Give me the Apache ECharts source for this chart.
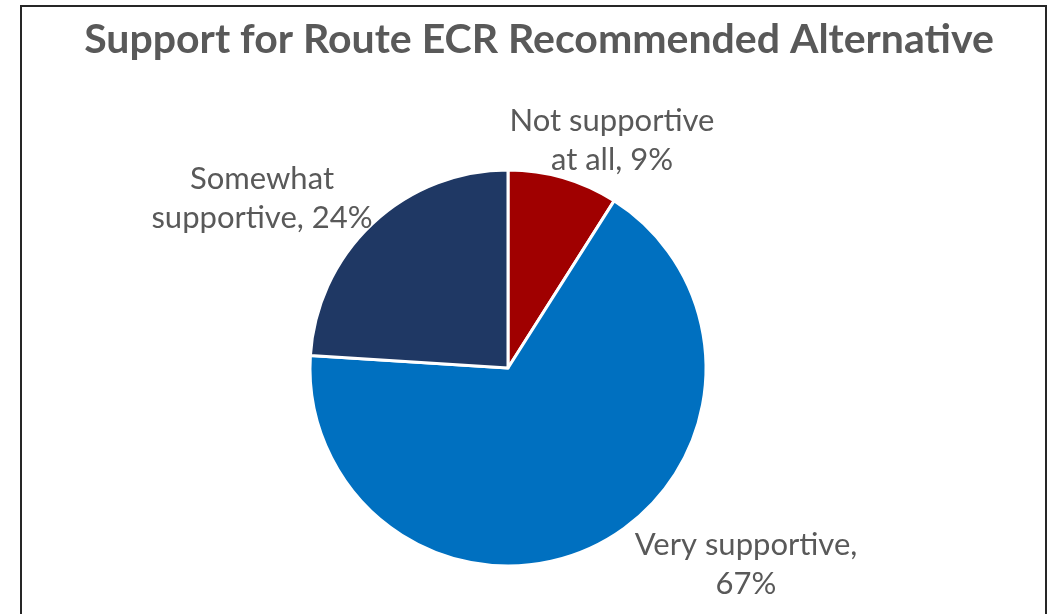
<!DOCTYPE html>
<html>
<head>
<meta charset="utf-8">
<script src="https://cdn.jsdelivr.net/npm/echarts@6/dist/echarts.min.js"></script>
<style>
html,body{margin:0;padding:0;background:#fff;}
#frame{position:absolute;left:20px;top:5px;width:1023px;height:640px;border:2px solid #262626;box-sizing:content-box;}
#chart{position:absolute;left:0;top:0;width:1053px;height:614px;}
</style>
</head>
<body>
<div id="frame"></div>
<div id="chart"></div>
<script>
const titleText = 'Support for Route ECR Recommended Alternative';
const categories = ['Not supportive at all', 'Very supportive', 'Somewhat supportive'];
const values = [9, 67, 24];
const labelLines = {
  'Not supportive at all': ['Not supportive', 'at all'],
  'Very supportive': ['Very supportive,', ''],
  'Somewhat supportive': ['Somewhat', 'supportive']
};
const colors = ['#A00000', '#0070C0', '#1F3864'];
const labelPos = [[612, 140], [746, 564], [262, 198]];

const chart = echarts.init(document.getElementById('chart'));
chart.setOption({
  animation: false,
  backgroundColor: 'transparent',
  title: {
    text: titleText,
    left: 534,
    textAlign: 'center',
    top: 14,
    textStyle: {fontFamily: 'Lato', fontSize: 41, fontWeight: 'bold', color: '#595959'}
  },
  series: [{
    type: 'pie',
    center: [508, 368],
    radius: [0, 198],
    startAngle: 90,
    clockwise: true,
    data: categories.map((c, i) => ({name: c, value: values[i], itemStyle: {color: colors[i]}})),
    itemStyle: {borderColor: '#fff', borderWidth: 3},
    label: {
      show: true,
      color: '#595959',
      fontFamily: 'Lato',
      fontSize: 31,
      lineHeight: 39,
      align: 'center',
      formatter: function (p) {
        const l = labelLines[p.name];
        if (l[1] === '') return l[0] + '\n' + Math.round(p.percent) + '%';
        return l[0] + '\n' + l[1] + ', ' + Math.round(p.percent) + '%';
      }
    },
    labelLine: {show: false},
    labelLayout: function (params) {
      const p = labelPos[params.dataIndex];
      return {x: p[0], y: p[1], align: 'center', verticalAlign: 'middle'};
    }
  }]
});
</script>
</body>
</html>
